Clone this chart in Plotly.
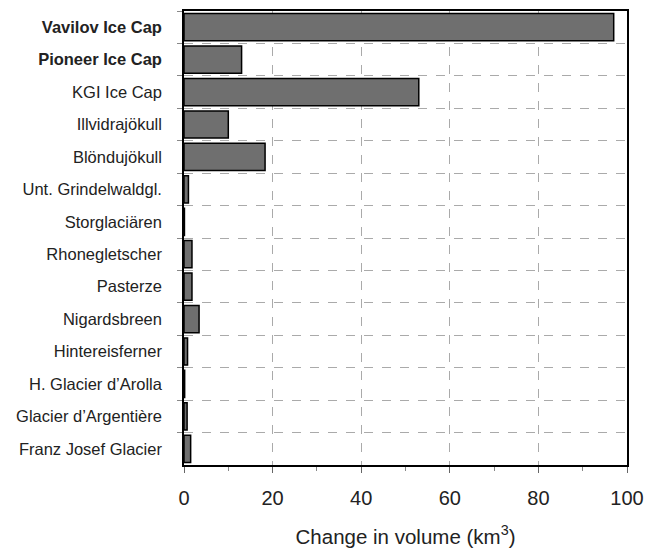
import plotly.graph_objects as go

glaciers = ["<b>Vavilov Ice Cap</b>", "<b>Pioneer Ice Cap</b>", "KGI Ice Cap", "Illvidrajökull",
            "Blöndujökull", "Unt. Grindelwaldgl.", "Storglaciären", "Rhonegletscher",
            "Pasterze", "Nigardsbreen", "Hintereisferner", "H. Glacier d’Arolla",
            "Glacier d’Argentière", "Franz Josef Glacier"]
volume_change = [97, 13, 53, 10, 18.3, 1.0, 0.1, 1.8, 1.8, 3.4, 0.8, 0.15, 0.7, 1.5]
x_ticks = [0, 20, 40, 60, 80, 100]

fig = go.Figure(go.Bar(
    y=glaciers, x=volume_change, orientation="h",
    marker=dict(color="#6f6f6f", line=dict(color="black", width=1.5)),
))

fig.update_layout(
    width=647, height=550,
    margin=dict(l=184, r=20, t=11, b=85),
    plot_bgcolor="white", paper_bgcolor="white",
    bargap=0.16,
    showlegend=False,
    font=dict(family="Liberation Sans, Arial, sans-serif", color="#222"),
)
fig.update_xaxes(
    range=[0, 100], tickvals=x_ticks, ticks="outside", ticklen=6, tickcolor="#666",
    tickfont=dict(size=20, color="#222"), ticklabelstandoff=8,
    showgrid=True, gridcolor="#aaaaaa", griddash="dash", gridwidth=1,
    showline=True, linecolor="black", linewidth=1.5, mirror=True,
    minor=dict(tickvals=[10, 30, 50, 70, 90], ticks="outside", ticklen=4, tickcolor="#888", showgrid=False),
    title=dict(text="Change in volume (km<sup>3</sup>)", font=dict(size=20.5, color="#222"), standoff=22),
    zeroline=False, automargin=False,
)
fig.update_yaxes(
    autorange="reversed", tickson="boundaries", ticks="outside", ticklen=5, tickcolor="#888",
    tickfont=dict(size=16.5, color="#222"),
    showgrid=True, gridcolor="#aaaaaa", griddash="dash", gridwidth=1,
    showline=True, linecolor="black", linewidth=1.5, mirror=True,
    ticklabelstandoff=17, automargin=False,
)
fig.write_html("out.html", config={"displayModeBar": False},
               post_script="document.body.style.margin='0';document.body.style.overflow='hidden';")
